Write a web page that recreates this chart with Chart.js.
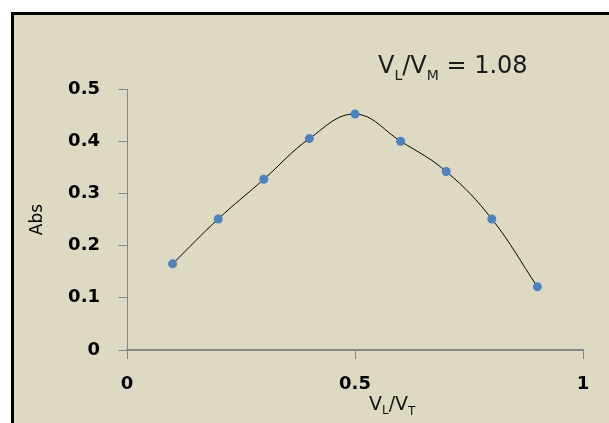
<!DOCTYPE html>
<html>
<head>
<meta charset="utf-8">
<script src="https://cdn.jsdelivr.net/npm/chart.js@4.4.0/dist/chart.umd.min.js"></script>
<style>
  body { margin: 0; background: #fff; }
  #wrap { position: relative; width: 609px; height: 423px; overflow: hidden; }
  #frame { position: absolute; left: 11px; top: 12px; width: 640px; height: 460px;
           border: 3px solid #000; background: #DDD9C3; }
  #jobChart { position: absolute; left: 0; top: 0; }
</style>
</head>
<body>
<div id="wrap">
  <div id="frame"></div>
  <canvas id="jobChart" width="609" height="423"></canvas>
</div>
<script>
// mole fraction of ligand vs absorbance (Job plot)
var xValues = [0.1, 0.2, 0.3, 0.4, 0.5, 0.6, 0.7, 0.8, 0.9];
var absValues = [0.165, 0.251, 0.327, 0.405, 0.452, 0.400, 0.342, 0.251, 0.121];
var xTicks = [0, 0.5, 1];
var yTicks = [0, 0.1, 0.2, 0.3, 0.4, 0.5];

var FONT = '"DejaVu Sans", sans-serif';

// draws text with subscript pieces, left to right
function drawParts(ctx, parts, x, y) {
    parts.forEach(function (p) {
        ctx.font = p.size + 'px ' + FONT;
        ctx.fillText(p.t, x, y + (p.dy || 0));
        x += ctx.measureText(p.t).width;
    });
}

var labelsPlugin = {
    id: 'subLabels',
    afterDraw: function (chart) {
        var ctx = chart.ctx;
        ctx.save();
        ctx.textBaseline = 'alphabetic';
        ctx.textAlign = 'left';
        ctx.fillStyle = '#1a1a1a';
        drawParts(ctx, [
            {t: 'V', size: 24}, {t: 'L', size: 14, dy: 7}, {t: '/', size: 24},
            {t: 'V', size: 24}, {t: 'M', size: 14, dy: 7}, {t: ' = 1.08', size: 24}
        ], 378, 73);
        ctx.fillStyle = '#111';
        drawParts(ctx, [
            {t: 'V', size: 19}, {t: 'L', size: 12, dy: 4}, {t: '/', size: 19},
            {t: 'V', size: 19}, {t: 'T', size: 12, dy: 5}
        ], 369, 410);
        ctx.restore();
    }
};

var points = xValues.map(function (x, i) { return {x: x, y: absValues[i]}; });

var ctx = document.getElementById('jobChart').getContext('2d');
var jobChart = new Chart(ctx, {
    type: 'line',
    data: {
        datasets: [{
            data: points,
            borderColor: '#000',
            borderWidth: 1,
            tension: 0.4,
            pointStyle: 'circle',
            pointRadius: 4.5,
            pointBorderWidth: 0,
            pointBackgroundColor: '#4F81BD',
            pointBorderColor: '#4F81BD'
        }]
    },
    options: {
        responsive: false,
        animation: false,
        devicePixelRatio: 1,
        layout: { padding: { top: 89, right: 26, bottom: 0, left: 0 } },
        plugins: { legend: { display: false }, tooltip: { enabled: false } },
        scales: {
            x: {
                type: 'linear',
                min: 0,
                max: 1,
                afterBuildTicks: function (scale) {
                    scale.ticks = xTicks.map(function (v) { return {value: v}; });
                },
                afterFit: function (scale) { scale.height = 73; },
                grid: { drawOnChartArea: false, tickLength: 9, color: '#868686' },
                border: { color: '#868686', width: 2 },
                ticks: {
                    padding: 15,
                    color: '#000',
                    font: { family: FONT, size: 18, weight: 'bold' },
                    callback: function (v) { return String(v); }
                }
            },
            y: {
                min: 0,
                max: 0.5,
                afterBuildTicks: function (scale) {
                    scale.ticks = yTicks.map(function (v) { return {value: v}; });
                },
                afterFit: function (scale) { scale.width = 127; },
                grid: { drawOnChartArea: false, tickLength: 9, color: '#868686' },
                border: { color: '#868686', width: 1 },
                ticks: {
                    padding: 18,
                    color: '#000',
                    font: { family: FONT, size: 18, weight: 'bold' },
                    callback: function (v) { return String(Math.round(v * 10) / 10); }
                },
                title: {
                    display: true,
                    text: 'Abs',
                    color: '#000',
                    font: { family: FONT, size: 17 },
                    padding: { top: 27, bottom: 0 }
                }
            }
        }
    },
    plugins: [labelsPlugin]
});
</script>
</body>
</html>
